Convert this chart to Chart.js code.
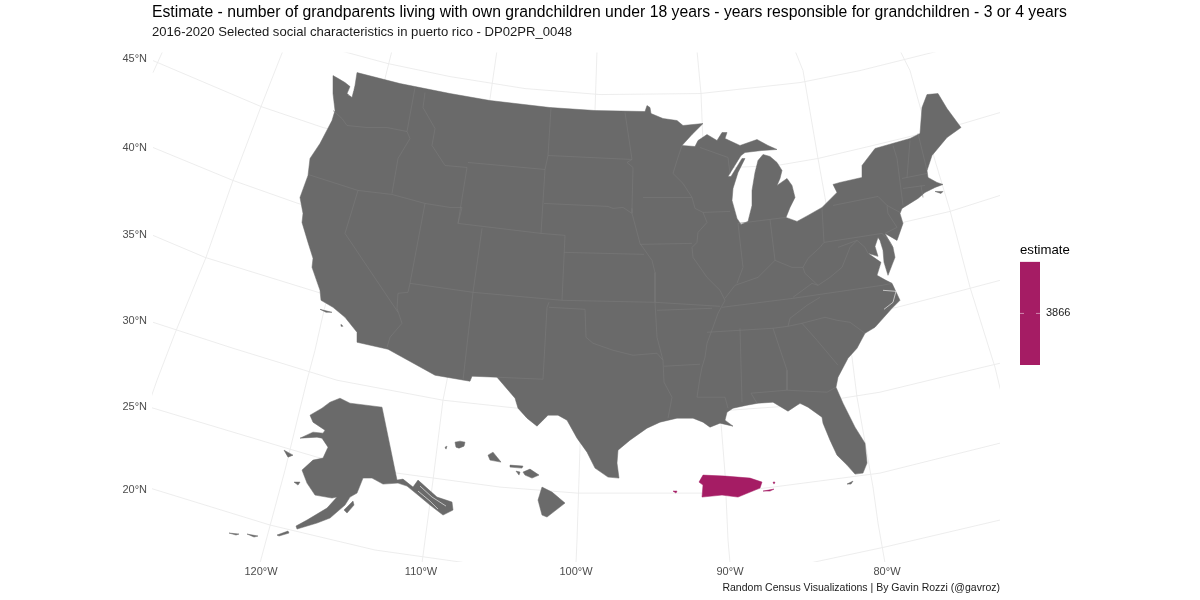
<!DOCTYPE html>
<html><head><meta charset="utf-8">
<script src="https://cdn.jsdelivr.net/npm/chart.js@4"></script>
<style>html,body{margin:0;padding:0;background:#fff}#m{position:absolute;left:0;top:0}#k{position:absolute;left:1000px;top:240px}</style>
</head><body>
<canvas id="m" width="1200" height="600"></canvas>
<canvas id="k" width="100" height="140"></canvas>
<script>
const titleText="Estimate - number of grandparents living with own grandchildren under 18 years - years responsible for grandchildren - 3 or 4 years";
const subtitleText="2016-2020 Selected social characteristics in puerto rico - DP02PR_0048";
const captionText="Random Census Visualizations | By Gavin Rozzi (@gavroz)";
const latLabels=["45°N","40°N","35°N","30°N","25°N","20°N"];
const latTicks=[58,147,235,321,407,490];
const lonLabels=["120°W","110°W","100°W","90°W","80°W"];
const lonTicks=[261,421,576,730,887];
const legendValue=[3866];
const legendRange=[3865,3867];
// graticule, in map units
const parallels=[
[[340,50],[388,63],[450,76],[525,88],[600,94],[700,93],[800,82],[860,70],[940,50]],
[[153,60],[261,106],[323,127],[450,158],[600,173],[777,165],[818,158],[873,145],[963,123],[1000,112]],
[[153,147],[233,180],[298,203],[450,245],[600,260],[750,252],[903,222],[950,211],[1000,195]],
[[153,235],[205,257],[318,292],[450,330],[600,345],[750,337],[897,307],[970,288],[1000,280]],
[[153,322],[233,348],[337,380],[443,400],[517,408],[620,412],[730,410],[787,406],[842,398],[880,392],[983,367],[1000,363]],
[[150,407],[283,447],[317,457],[397,473],[500,487],[577,493],[723,493],[773,487],[880,473],[1000,443]],
[[150,488],[270,525],[375,550],[467,563]],
[[810,563],[885,547],[1000,520]]];
const meridians=[
[[153,72],[163,50]],
[[283,50],[261,106],[233,180],[206,257],[175,333],[157,380],[150,400]],
[[392,50],[385,78],[324,310],[315,350],[307,380],[285,470],[260,563]],
[[497,50],[490,98],[447,380],[443,400],[433,480],[422,563]],
[[597,50],[595,110],[580,447],[577,540],[576,563]],
[[697,50],[701,93],[703,143],[721,423],[725,473],[728,540],[730,563]],
[[795,50],[803,70],[818,158],[825,197],[852,357],[857,397],[873,487],[878,523],[885,563]],
[[900,50],[910,70],[935,160],[950,210],[970,287],[995,367],[1001,392]]];
// land outlines, in map units
const lower48=[[333,75],[340,79],[345,82],[350,86],[347,93],[352,97],[355,85],[357,72],[400,83],[450,93],[490,100],[550,107],[595,110],[645,111],[647,105],[650,107],[651,113],[663,118],[677,120],[683,125],[703,123],[692,134],[682,145],[695,146],[698,140],[707,134],[717,140],[722,132],[727,132],[725,138],[740,145],[757,139],[768,145],[777,149],[762,150],[745,152],[741,155],[728,176],[731,176],[742,158],[745,158],[738,172],[733,188],[732,200],[737,218],[741,224],[748,221],[752,205],[752,190],[755,172],[758,160],[763,154],[770,156],[777,162],[782,170],[780,178],[777,185],[787,178],[792,185],[795,197],[790,207],[786,217],[797,221],[808,215],[822,207],[837,192],[833,184],[840,182],[862,177],[862,165],[875,148],[910,138],[920,133],[922,107],[927,94],[938,93],[947,108],[961,127],[947,137],[942,143],[932,155],[927,170],[928,177],[937,182],[943,184],[935,187],[925,192],[918,198],[902,208],[900,213],[903,223],[897,240],[885,233],[893,247],[895,257],[888,275],[884,262],[883,250],[880,240],[878,237],[875,246],[878,256],[868,253],[881,262],[877,275],[886,280],[892,283],[900,300],[892,308],[875,327],[865,333],[857,348],[848,358],[838,377],[836,387],[843,403],[855,427],[865,443],[867,463],[863,473],[855,474],[847,465],[837,455],[830,440],[823,423],[822,417],[808,407],[800,403],[788,411],[773,402],[758,403],[747,405],[733,408],[727,412],[725,420],[733,426],[720,423],[710,427],[703,422],[693,418],[677,418],[660,422],[647,428],[630,440],[618,450],[617,463],[619,478],[608,477],[595,468],[587,452],[577,438],[567,420],[558,415],[548,415],[537,426],[527,418],[518,408],[515,398],[497,377],[472,376],[470,381],[435,375],[388,349],[357,342],[357,332],[345,317],[333,307],[321,300],[320,290],[312,267],[313,258],[308,242],[302,222],[303,213],[300,197],[308,175],[310,158],[320,143],[332,120],[335,110],[333,93]];
const alaska=[[340,398],[350,403],[382,407],[397,480],[403,479],[413,487],[418,480],[437,497],[452,502],[453,510],[443,515],[430,505],[418,495],[407,486],[398,483],[383,484],[372,478],[363,478],[357,493],[350,497],[345,505],[330,518],[317,523],[297,529],[296,526],[307,520],[327,508],[337,497],[332,498],[315,495],[307,483],[302,470],[313,460],[323,458],[328,447],[322,438],[317,437],[300,438],[313,432],[323,433],[325,430],[313,422],[310,415],[322,408],[330,402]];
const kodiak=[[344,510],[353,501],[354,505],[347,513]];
const stLawrence=[[284,450],[293,455],[288,457]];
const nunivak=[[294,482],[300,482],[298,485]];
const aleutA=[[277,535],[288,531],[289,533],[279,536]];
const aleutB=[[247,534],[258,536],[254,537]];
const aleutC=[[229,533],[239,534],[236,535]];
const kauai=[[455,442],[460,441],[465,442],[464,446],[459,448],[456,447]];
const niihau=[[445,447],[447,446],[446,449]];
const oahu=[[493,452],[501,462],[490,460],[488,455]];
const molokai=[[510,465],[523,466],[522,468],[510,467]];
const lanai=[[516,471],[520,472],[519,475]];
const maui=[[523,472],[530,469],[539,475],[532,478],[525,475]];
const bigIsland=[[542,487],[552,492],[565,503],[547,517],[542,515],[538,500]];
const keyWest=[[847,484],[853,481],[851,484]];
const vineyard=[[935,191],[943,191],[941,193]];
const channelA=[[320,309],[332,312],[326,312]];
const channelB=[[341,324],[343,326],[341,326]];
const puertoRico=[[703,475],[725,476],[750,478],[762,482],[760,488],[738,497],[722,495],[702,497],[703,485],[699,482]];
const vieques=[[763,491],[774,489],[770,491]];
const culebra=[[773,482],[775,482],[774,484]];
const mona=[[673,491],[677,491],[676,493]];
// white water lines on top of the land
const channels=[
[[902,213],[917,202],[908,208]],
[[883,290],[896,291],[893,302],[884,309]],
[[420,486],[432,497],[446,506]],[[418,491],[430,501],[438,509]],
[[350,78],[353,90],[349,95]]];
const borders=[
[[333,110],[342,118],[347,125],[367,127],[387,127],[407,131]],
[[415,87],[407,131],[410,138],[398,158],[392,193]],
[[308,174],[358,190],[392,194],[425,203],[450,207],[462,207],[458,223],[541,233],[565,235]],
[[425,203],[410,283],[408,292],[398,293],[397,308],[402,323],[390,337],[387,347]],
[[358,190],[345,233],[398,312]],
[[425,92],[423,107],[435,128],[432,145],[445,165],[467,167],[458,223]],
[[468,162],[545,169]],
[[551,107],[548,155],[545,169],[541,233]],
[[548,155],[632,159]],
[[544,203],[608,206],[613,208],[623,207],[632,213]],
[[625,112],[632,159],[627,162],[633,167],[632,208],[632,213],[640,243],[652,260],[655,272],[655,302],[657,337],[663,360],[664,382],[672,397],[668,418]],
[[643,197],[692,197]],
[[682,145],[677,160],[673,173],[683,183],[692,197],[695,208],[703,212],[730,211]],
[[700,147],[728,157],[730,173]],
[[703,212],[707,222],[698,232],[697,242],[692,247],[693,257],[707,277],[720,290],[725,300],[718,313],[713,327],[707,343],[705,357],[702,367],[700,377],[697,397],[725,397],[728,408]],
[[640,244],[692,243]],
[[564,252],[644,254]],
[[565,235],[562,300]],
[[482,228],[473,292],[463,380]],
[[410,283],[473,292],[562,300],[655,302],[720,306]],
[[657,310],[712,308]],
[[549,302],[547,307],[543,379],[497,377]],
[[549,307],[585,309],[586,337],[593,343],[613,350],[633,355],[657,353],[663,360]],
[[664,366],[700,364]],
[[738,223],[743,267],[737,283]],
[[738,223],[770,219],[786,217]],
[[770,219],[775,260]],
[[725,298],[735,285],[758,277],[768,267],[775,260],[792,267],[803,267],[808,258],[820,247],[824,242],[822,208]],
[[833,205],[878,196],[887,205],[900,212]],
[[887,205],[888,213],[897,227],[885,233]],
[[824,242],[882,233],[889,240],[893,247]],
[[838,247],[857,240],[865,247],[868,253]],
[[857,240],[850,247],[842,267],[830,277],[818,285],[805,273],[803,267]],
[[793,297],[812,283],[818,285]],
[[722,307],[793,298],[882,285],[892,283]],
[[820,297],[807,305],[790,318],[788,326]],
[[707,332],[773,328],[788,326],[802,323],[825,317],[837,320],[850,322],[865,333]],
[[802,323],[817,340],[838,365]],
[[773,328],[787,370],[787,390]],
[[751,393],[787,390],[827,392],[836,387]],
[[751,393],[757,403]],
[[740,328],[742,402]],
[[893,145],[897,158],[903,205]],
[[902,178],[927,173]],
[[903,188],[925,185]],
[[921,185],[923,197]],
[[910,140],[907,177]],
[[918,133],[927,170]]];
const landParts=[lower48,alaska,kodiak,stLawrence,nunivak,aleutA,aleutB,aleutC,kauai,niihau,oahu,molokai,lanai,maui,bigIsland,keyWest,vineyard,channelA,channelB];
const prParts=[puertoRico,vieques,culebra,mona];
const toPts=a=>a.map(p=>({x:p[0],y:p[1]}));
const line=(a,c,w)=>({data:toPts(a),showLine:true,pointRadius:0,borderColor:c,borderWidth:w,tension:0,fill:false});
const poly=(a,c)=>({data:toPts(a.concat([a[0]])),showLine:true,pointRadius:0,borderColor:c,borderWidth:0.5,backgroundColor:c,tension:0,fill:'shape'});
const datasets=[
...parallels.concat(meridians).map(a=>line(a,'#ebebeb',0.9)),
...landParts.map(a=>poly(a,'#6a6a6a')),
...borders.map(a=>line(a,'#7a7a7a',0.6)),
...channels.map(a=>line(a,'#ffffff',0.6)),
...prParts.map(a=>poly(a,'#a51c64'))
].map((d,i,all)=>Object.assign(d,{order:all.length-i}));
const font="'Liberation Sans', Arial, sans-serif";
// the header boxes start at the panel's left edge and may run past its right edge
const headerAlign=(left,right)=>({id:'headerAlign',afterLayout(c){c.boxes.filter(b=>b.position==='top'&&b.options&&b.options.text).forEach(b=>{b.left=left;b.right=right;});}});
new Chart(document.getElementById('m'),{type:'scatter',data:{datasets},plugins:[headerAlign(152,1200)],options:{
 responsive:false,animation:false,devicePixelRatio:1,
 layout:{padding:{left:112,right:200,top:0,bottom:0}},
 plugins:{legend:{display:false},tooltip:{enabled:false},
  title:{display:true,text:titleText,align:'start',color:'#000',font:{family:font,size:15.74,weight:'normal'},padding:{top:3,bottom:0}},
  subtitle:{display:true,text:subtitleText,align:'start',color:'#1a1a1a',font:{family:font,size:13.1,weight:'normal'},padding:{top:3,bottom:12}}},
 scales:{
  x:{type:'linear',min:152,max:1000,grid:{display:false,drawTicks:false},border:{display:false},
     afterBuildTicks:s=>{s.ticks=lonTicks.map(v=>({value:v}))},
     afterFit:s=>{s.height=38},
     ticks:{autoSkip:false,maxRotation:0,padding:3,color:'#4d4d4d',font:{family:font,size:11},callback:v=>lonLabels[lonTicks.indexOf(v)]},
     title:{display:true,text:captionText,align:'end',color:'#1a1a1a',font:{family:font,size:10.5},padding:{top:0,bottom:6}}},
  y:{type:'linear',reverse:true,min:52,max:562,grid:{display:false,drawTicks:false},border:{display:false},
     afterBuildTicks:s=>{s.ticks=latTicks.map(v=>({value:v}))},
     afterFit:s=>{s.width=40},
     ticks:{autoSkip:false,padding:5,color:'#4d4d4d',font:{family:font,size:11},callback:v=>latLabels[latTicks.indexOf(v)]}}
 }}});
const keyMarks={id:'keyMarks',afterDatasetsDraw(c){const g=c.ctx,a=c.chartArea,y=c.scales.y.getPixelForValue(legendValue[0]);g.save();g.strokeStyle='rgba(255,255,255,.6)';g.lineWidth=.8;g.beginPath();g.moveTo(a.left,y);g.lineTo(a.left+4,y);g.moveTo(a.right-4,y);g.lineTo(a.right,y);g.stroke();g.restore();}};
new Chart(document.getElementById('k'),{type:'bar',plugins:[keyMarks,headerAlign(20,100)],
 data:{labels:['estimate'],datasets:[{data:[legendRange],backgroundColor:'#a51c64',barPercentage:1,categoryPercentage:1}]},
 options:{responsive:false,animation:false,devicePixelRatio:1,
 layout:{padding:{left:20,right:0,top:0,bottom:15}},
 plugins:{legend:{display:false},tooltip:{enabled:false},
  title:{display:true,text:'estimate',align:'start',color:'#000',font:{family:font,size:13.2,weight:'normal'},padding:{top:2,bottom:4}}},
 scales:{x:{display:false},
  y:{position:'right',min:legendRange[0],max:legendRange[1],grid:{display:false,drawTicks:false},border:{display:false},
   afterBuildTicks:s=>{s.ticks=legendValue.map(v=>({value:v}))},
   afterFit:s=>{s.width=60},
   ticks:{padding:6,color:'#1a1a1a',font:{family:font,size:11},callback:v=>String(v)}}}}});
</script>
</body></html>
